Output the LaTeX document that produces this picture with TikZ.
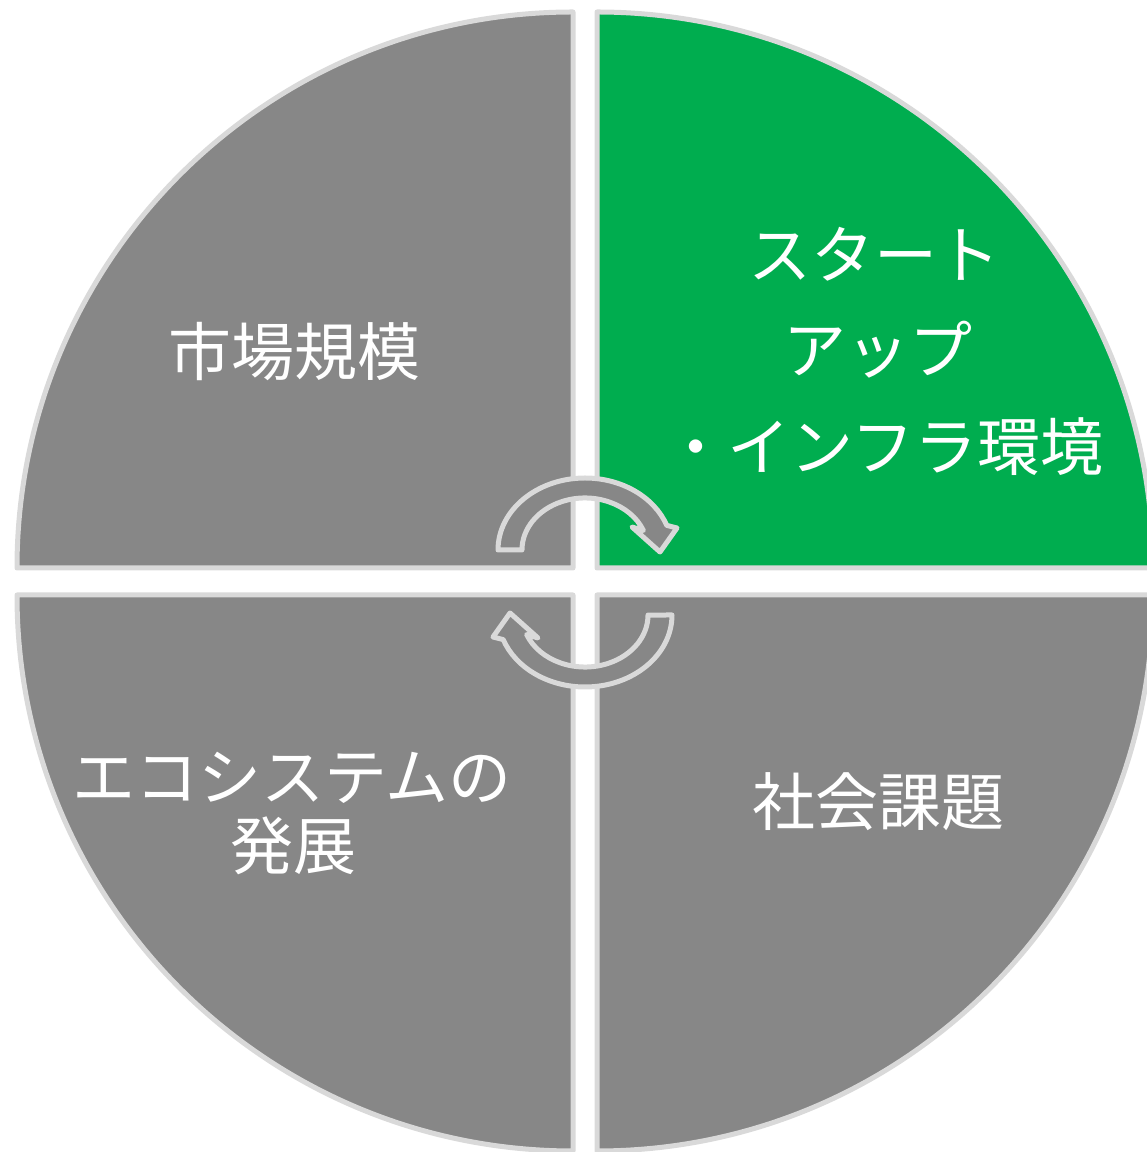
\documentclass[tikz,border=0pt]{standalone}
\usepackage{fontspec}
\setmainfont{Noto Sans CJK JP}
\definecolor{secgray}{HTML}{878787}
\definecolor{secgreen}{HTML}{00AD4F}
\definecolor{rimgray}{HTML}{D9D9D9}
\tikzset{
  sector/.style={draw=rimgray, line width=5pt, line join=round},
  cyclearrow/.style={draw=rimgray, fill=secgray, line width=5pt, line join=round},
  lbl/.style={text=white, inner sep=0pt, font=\fontsize{63}{63}\selectfont}
}
\begin{document}
\begin{tikzpicture}[x=1pt,y=1pt]
\useasboundingbox (0,0) rectangle (1147,1152);
\clip (0,0) rectangle (1147,1152);
% sectors
\draw[sector, fill=secgray] (573,584) -- ++(-556,0) arc[start angle=180, end angle=90, radius=556] -- cycle;
\draw[sector, fill=secgreen] (597,584) -- ++(0,556) arc[start angle=90, end angle=0, radius=556] -- cycle;
\draw[sector, fill=secgray] (573,557) -- ++(0,-556) arc[start angle=270, end angle=180, radius=556] -- cycle;
\draw[sector, fill=secgray] (597,557) -- ++(556,0) arc[start angle=0, end angle=-90, radius=556] -- cycle;
% circular arrows
\begin{scope}[shift={(585,602)}]
\draw[cyclearrow] (-87,0) arc[start angle=180, end angle=20, x radius=87, y radius=72]
   -- (92,22) -- (75,-2) -- (47,23) -- (58.4,19.5)
   arc[start angle=22, end angle=180, x radius=63, y radius=52] -- cycle;
\end{scope}
\begin{scope}[shift={(585,537)}, rotate=180]
\draw[cyclearrow] (-87,0) arc[start angle=180, end angle=20, x radius=87, y radius=72]
   -- (92,22) -- (75,-2) -- (47,23) -- (58.4,19.5)
   arc[start angle=22, end angle=180, x radius=63, y radius=52] -- cycle;
\end{scope}
% labels
\node[lbl] (market) at (294,800) {市場規模};
\node[lbl] (su1) at (874,898) {スタート};
\node[lbl] (su2) at (878,802) {アップ};
\node[lbl] (su3) at (884,705) {・インフラ環境};
\node[lbl] (eco1) at (292,374) {エコシステムの};
\node[lbl] (eco2) at (293,306) {発展};
\node[lbl] (social) at (878,350) {社会課題};
\end{tikzpicture}
\end{document}
